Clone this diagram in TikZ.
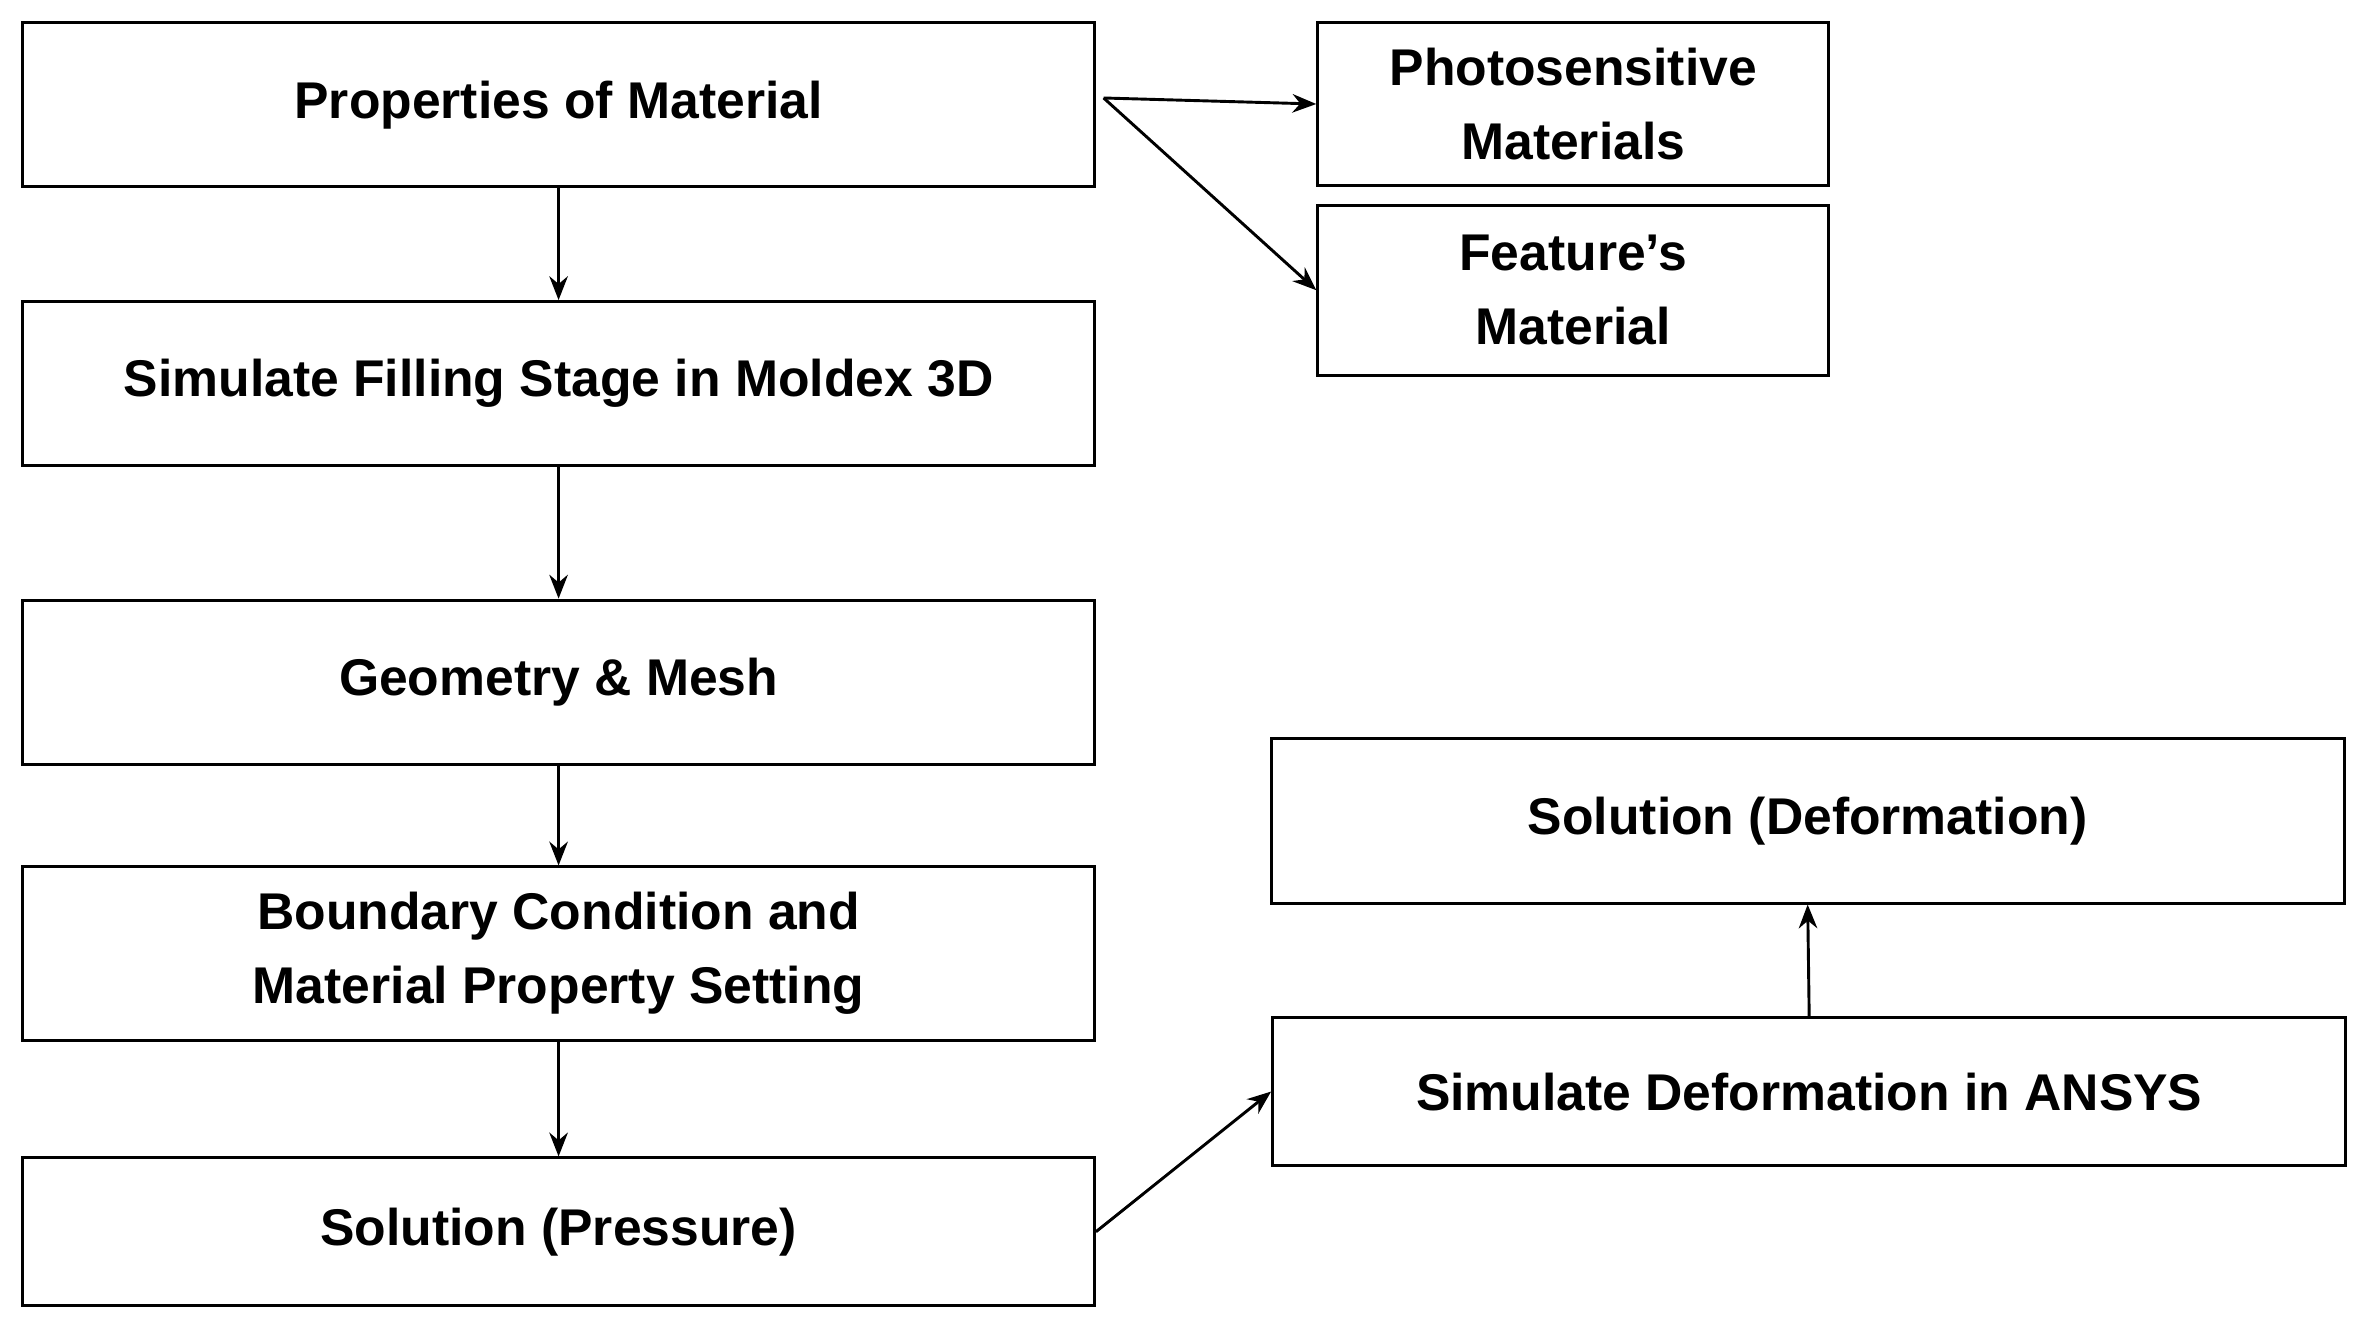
\documentclass[tikz,border=0pt]{standalone}
\usepackage{fontspec}
\setmainfont{Liberation Sans}
\usetikzlibrary{arrows.meta}
\begin{document}
\begin{tikzpicture}[x=0.02cm,y=-0.02cm,
  box/.style={draw,line width=1.1pt,inner sep=0pt,font=\fontsize{19.5}{28}\selectfont\bfseries,align=center},
  arr/.style={line width=1.1pt,-{Stealth[length=9pt,width=7pt]}}]
\useasboundingbox (0,0) rectangle (1568,881);
\node[box,minimum width=14.22cm,minimum height=2.18cm] (A) at (370.5,69.5) {Properties of Material};
\node[box,minimum width=14.22cm,minimum height=2.18cm] (B) at (370.5,254.5) {Simulate Filling Stage in Moldex 3D};
\node[box,minimum width=14.22cm,minimum height=2.18cm] (C) at (370.5,452.5) {Geometry \& Mesh};
\node[box,minimum width=14.22cm,minimum height=2.30cm] (D) at (370.5,632.5) {Boundary Condition and\\Material Property Setting};
\node[box,minimum width=14.22cm,minimum height=1.96cm] (E) at (370.5,817) {Solution (Pressure)};
\node[box,minimum width=6.78cm,minimum height=2.16cm] (P) at (1043.5,69) {Photosensitive\\Materials};
\node[box,minimum width=6.78cm,minimum height=2.26cm] (F) at (1043.5,192.5) {Feature’s\\Material};
\node[box,minimum width=14.24cm,minimum height=2.18cm] (SD) at (1199,544.5) {Solution (Deformation)};
\node[box,minimum width=14.24cm,minimum height=1.96cm] (SA) at (1200,724) {Simulate Deformation in ANSYS};
\coordinate (s) at (732,65);
\draw[arr] (A) -- (B);
\draw[arr] (B) -- (C);
\draw[arr] (C) -- (D);
\draw[arr] (D) -- (E);
\draw[arr] (s) -- (P.west);
\draw[arr] (s) -- (F.west);
\draw[arr] (E.east) -- (SA.west);
\draw[arr] (SA.north) -- (SD.south);
\end{tikzpicture}
\end{document}
